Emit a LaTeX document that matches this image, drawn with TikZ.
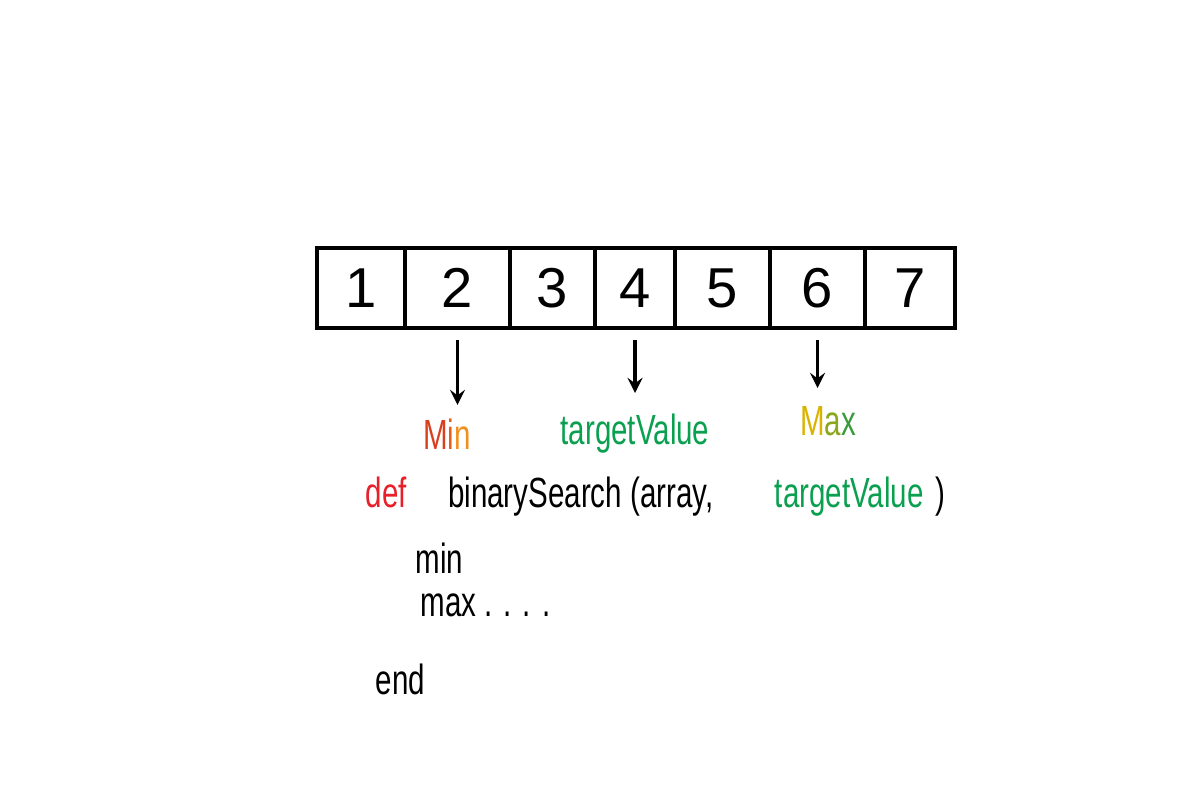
\documentclass[tikz,border=0pt]{standalone}
\usepackage{fontspec}
\setmainfont{Liberation Sans}
\newfontfamily\handfont[FakeStretch=0.7]{Liberation Sans}
\usetikzlibrary{positioning}
\definecolor{defRed}{HTML}{E8202A}
\definecolor{valGreen}{HTML}{0AA050}
\definecolor{minRed}{HTML}{D8401E}
\definecolor{minOrange}{HTML}{F0901E}
\definecolor{maxYellow}{HTML}{D8B400}
\definecolor{maxGreen}{HTML}{3C9A3C}

\begin{document}
\begin{tikzpicture}[
        cell/.style={draw, line width=0.9pt, minimum height=0.8cm, inner sep=0pt, outer sep=0pt, font=\fontsize{16}{18}\selectfont},
        tag/.style={inner sep=0pt, font=\handfont\fontsize{12}{14}\selectfont},
        code/.style={inner sep=0pt, anchor=base west, font=\handfont\fontsize{12}{14}\selectfont},
        ptr/.style={->, >=stealth, line width=0.9pt}
    ]
                \useasboundingbox (0,0) rectangle (12,-8);

                % the array
                \node[cell, minimum width=0.88cm, anchor=north west] (c1) at (3.17,-2.48) {1};
                \node[cell, minimum width=1.05cm] (c2) [right=0pt of c1] {2};
                \node[cell, minimum width=0.85cm] (c3) [right=0pt of c2] {3};
                \node[cell, minimum width=0.80cm] (c4) [right=0pt of c3] {4};
                \node[cell, minimum width=0.95cm] (c5) [right=0pt of c4] {5};
                \node[cell, minimum width=0.95cm] (c6) [right=0pt of c5] {6};
                \node[cell, minimum width=0.90cm] (c7) [right=0pt of c6] {7};

                \node[tag] (minTag) [below=0.9cm of c2, xshift=-3] {\textcolor{minRed}{M}\textcolor{minRed!60!minOrange}{i}\textcolor{minOrange}{n}};
                \node[tag, text=valGreen] (valTag) [below=0.85cm of c4] {targetValue};
                \node[tag] (maxTag) [below=0.78cm of c6, xshift=3] {\textcolor{maxYellow}{M}\textcolor{maxYellow!50!maxGreen}{a}\textcolor{maxGreen}{x}};

                \draw[ptr, shorten <=0.12cm, shorten >=0.13cm] (c2.south) -- (c2.south |- minTag.north);
                \draw[ptr, shorten <=0.12cm, shorten >=0.2cm] (c4.south) -- (c4.south |- valTag.north);
                \draw[ptr, shorten <=0.12cm, shorten >=0.18cm] (c6.south) -- (c6.south |- maxTag.north);

                % the code
                \node[code, text=defRed] (def) at (3.65,-5.08) {def};
                \node[code] (call) at ([xshift=0.4cm]def.base east) {binarySearch (array,};
                \node[code, text=valGreen] (arg) at ([xshift=0.6cm]call.base east) {targetValue};
                \node[code] (close) at ([xshift=0.1cm]arg.base east) {)};
                \node[code] (minLine) at (4.15,-5.74) {min};
                \node[code] (maxLine) at (4.2,-6.17) {max . . . .};
                \node[code] (endLine) at (3.75,-6.95) {end};
            \end{tikzpicture}
\end{document}
